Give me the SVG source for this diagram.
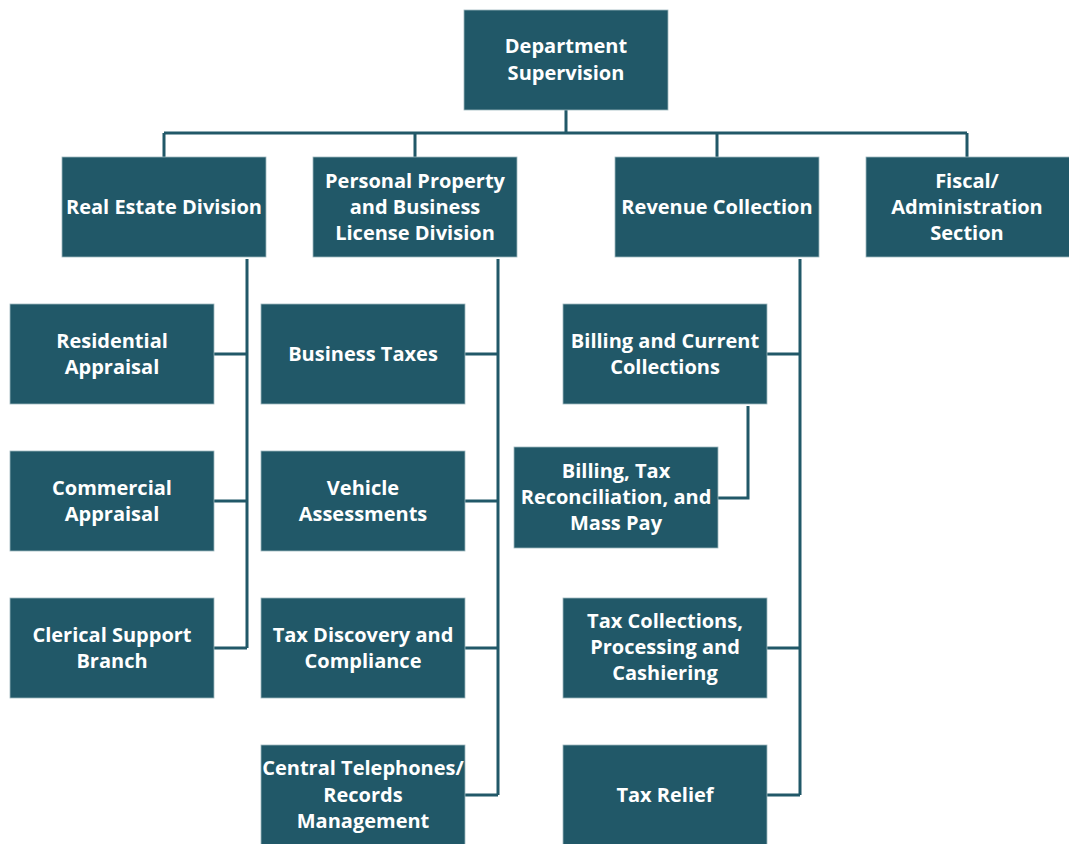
<svg xmlns="http://www.w3.org/2000/svg" width="1069" height="844" viewBox="0 0 1069 844">
<style>
.box{fill:#215868;stroke:#9fb8bf;stroke-width:0.8}
.t{font-family:"Open Sans","Liberation Sans",sans-serif;font-weight:700;font-size:20px;fill:#ffffff;text-anchor:middle}
.c{fill:none;stroke:#215868;stroke-width:3}
</style>
<rect width="1069" height="844" fill="#ffffff"/>
<g id="connectors">
<path class="c" d="M566 110V133M164 133H967M164 133V157M415 133V157M717 133V157M967 133V157"/>
<path class="c" d="M247 259V648M214 354H247M214 501H247M214 648H247"/>
<path class="c" d="M498 259V795M465 354H498M465 501H498M465 648H498M465 795H498"/>
<path class="c" d="M800 259V795M767 354H800M767 648H800M767 795H800"/>
<path class="c" d="M748 406V498H718"/>
</g>
<g id="n-dept"><rect class="box" x="464" y="10" width="204" height="100"/><text class="t" x="566" y="53">Department</text><text class="t" x="566" y="80">Supervision</text></g>
<g id="n-realestate"><rect class="box" x="62" y="157" width="204" height="100"/><text class="t" x="164" y="214">Real Estate Division</text></g>
<g id="n-personal"><rect class="box" x="313" y="157" width="204" height="100"/><text class="t" x="415" y="188">Personal Property</text><text class="t" x="415" y="214">and Business</text><text class="t" x="415" y="240">License Division</text></g>
<g id="n-revenue"><rect class="box" x="615" y="157" width="204" height="100"/><text class="t" x="717" y="214">Revenue Collection</text></g>
<g id="n-fiscal"><rect class="box" x="866" y="157" width="204" height="100"/><text class="t" x="967" y="188">Fiscal/</text><text class="t" x="967" y="214">Administration</text><text class="t" x="967" y="240">Section</text></g>
<g id="n-residential"><rect class="box" x="10" y="304" width="204" height="100"/><text class="t" x="112" y="348">Residential</text><text class="t" x="112" y="374">Appraisal</text></g>
<g id="n-commercial"><rect class="box" x="10" y="451" width="204" height="100"/><text class="t" x="112" y="495">Commercial</text><text class="t" x="112" y="521">Appraisal</text></g>
<g id="n-clerical"><rect class="box" x="10" y="598" width="204" height="100"/><text class="t" x="112" y="642">Clerical Support</text><text class="t" x="112" y="668">Branch</text></g>
<g id="n-business"><rect class="box" x="261" y="304" width="204" height="100"/><text class="t" x="363" y="361">Business Taxes</text></g>
<g id="n-vehicle"><rect class="box" x="261" y="451" width="204" height="100"/><text class="t" x="363" y="495">Vehicle</text><text class="t" x="363" y="521">Assessments</text></g>
<g id="n-discovery"><rect class="box" x="261" y="598" width="204" height="100"/><text class="t" x="363" y="642">Tax Discovery and</text><text class="t" x="363" y="668">Compliance</text></g>
<g id="n-central"><rect class="box" x="261" y="745" width="204" height="100"/><text class="t" x="363" y="775">Central Telephones/</text><text class="t" x="363" y="802">Records</text><text class="t" x="363" y="828">Management</text></g>
<g id="n-billing"><rect class="box" x="563" y="304" width="204" height="100"/><text class="t" x="665" y="348">Billing and Current</text><text class="t" x="665" y="374">Collections</text></g>
<g id="n-billingtax"><rect class="box" x="514" y="447" width="204" height="101"/><text class="t" x="616" y="478">Billing, Tax</text><text class="t" x="616" y="504">Reconciliation, and</text><text class="t" x="616" y="530">Mass Pay</text></g>
<g id="n-taxcoll"><rect class="box" x="563" y="598" width="204" height="100"/><text class="t" x="665" y="628">Tax Collections,</text><text class="t" x="665" y="654">Processing and</text><text class="t" x="665" y="680">Cashiering</text></g>
<g id="n-relief"><rect class="box" x="563" y="745" width="204" height="100"/><text class="t" x="665" y="802">Tax Relief</text></g>
</svg>
